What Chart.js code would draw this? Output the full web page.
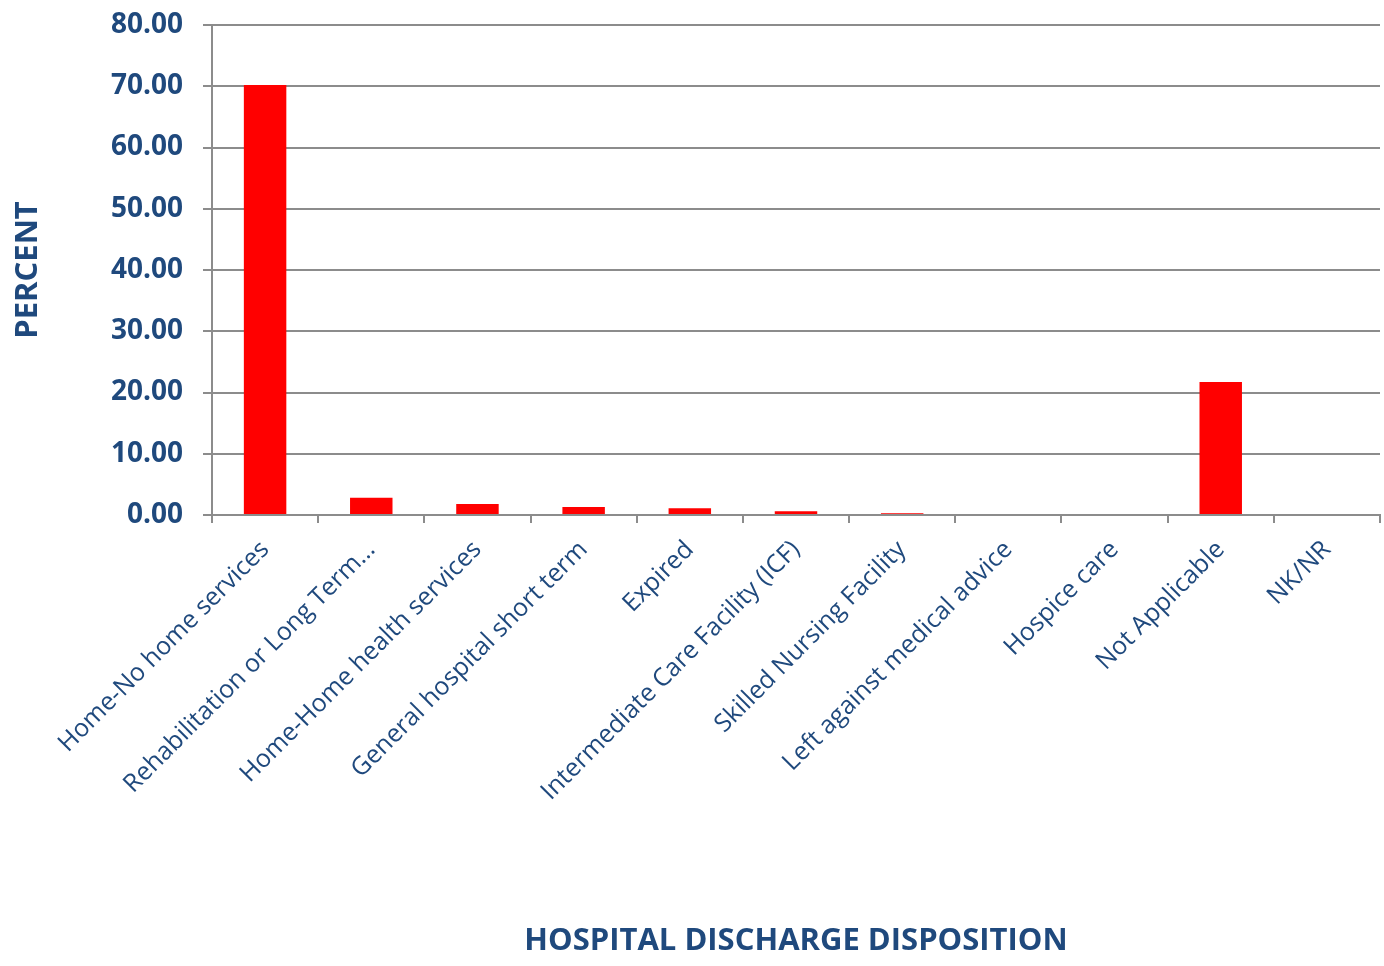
<!DOCTYPE html>
<html><head><meta charset="utf-8">
<script src="https://cdn.jsdelivr.net/npm/chart.js@4/dist/chart.umd.min.js"></script>
<style>html,body{margin:0;padding:0;background:#fff}#wrap{width:1384px;height:966px}</style>
</head><body><div id="wrap"><canvas id="c" width="1384" height="966"></canvas></div>
<script>
const categories = ["Home-No home services","Rehabilitation or Long Term…","Home-Home health services","General hospital short term","Expired","Intermediate Care Facility (ICF)","Skilled Nursing Facility","Left against medical advice","Hospice care","Not Applicable","NK/NR"];
const percentValues = [70.2, 2.8, 1.8, 1.3, 1.1, 0.6, 0.3, 0.15, 0.0, 21.7, 0.0];
const yTickMin = 0, yTickMax = 80, yTickStep = 10;
const yTitle = "PERCENT";
const xTitle = "HOSPITAL DISCHARGE DISPOSITION";

const navy = "#1F497D";
const grid = "#8c8c8c";
new Chart(document.getElementById("c"), {
  type: "bar",
  data: { labels: categories, datasets: [{ data: percentValues, backgroundColor: "#FF0000", borderWidth: 0, categoryPercentage: 1, barPercentage: 0.4 }] },
  options: {
    responsive: false, animation: false,
    layout: { padding: { top: 25, right: 4, bottom: 6, left: 10 } },
    plugins: { legend: { display: false }, tooltip: { enabled: false } },
    scales: {
      x: {
        offset: true,
        grid: { display: true, drawOnChartArea: false, drawTicks: true, tickLength: 8, color: grid, lineWidth: 2, offset: true },
        border: { display: true, color: grid, width: 2 },
        ticks: { color: navy, font: { family: "Open Sans", size: 25 }, maxRotation: 45, minRotation: 45, autoSkip: false, padding: 12 },
        title: { display: true, text: xTitle, color: navy, font: { family: "Open Sans", size: 31, weight: "bold" }, padding: { top: 0, bottom: 0 } },
        afterFit: s => { s.height = 445; }
      },
      y: {
        min: yTickMin, max: yTickMax,
        grid: { color: grid, lineWidth: 2, tickLength: 9 },
        border: { display: true, color: grid, width: 2 },
        ticks: { stepSize: yTickStep, color: navy, font: { family: "Open Sans", size: 28, weight: "bold" }, padding: 20, callback: v => v.toFixed(2) },
        title: { display: true, text: yTitle, color: navy, font: { family: "Open Sans", size: 31, weight: "bold" }, padding: { top: 0, bottom: 50 } },
        afterFit: s => { s.width = 202; s.paddingTop = 11; s.paddingBottom = 11; }
      }
    }
  }
});
</script></body></html>
